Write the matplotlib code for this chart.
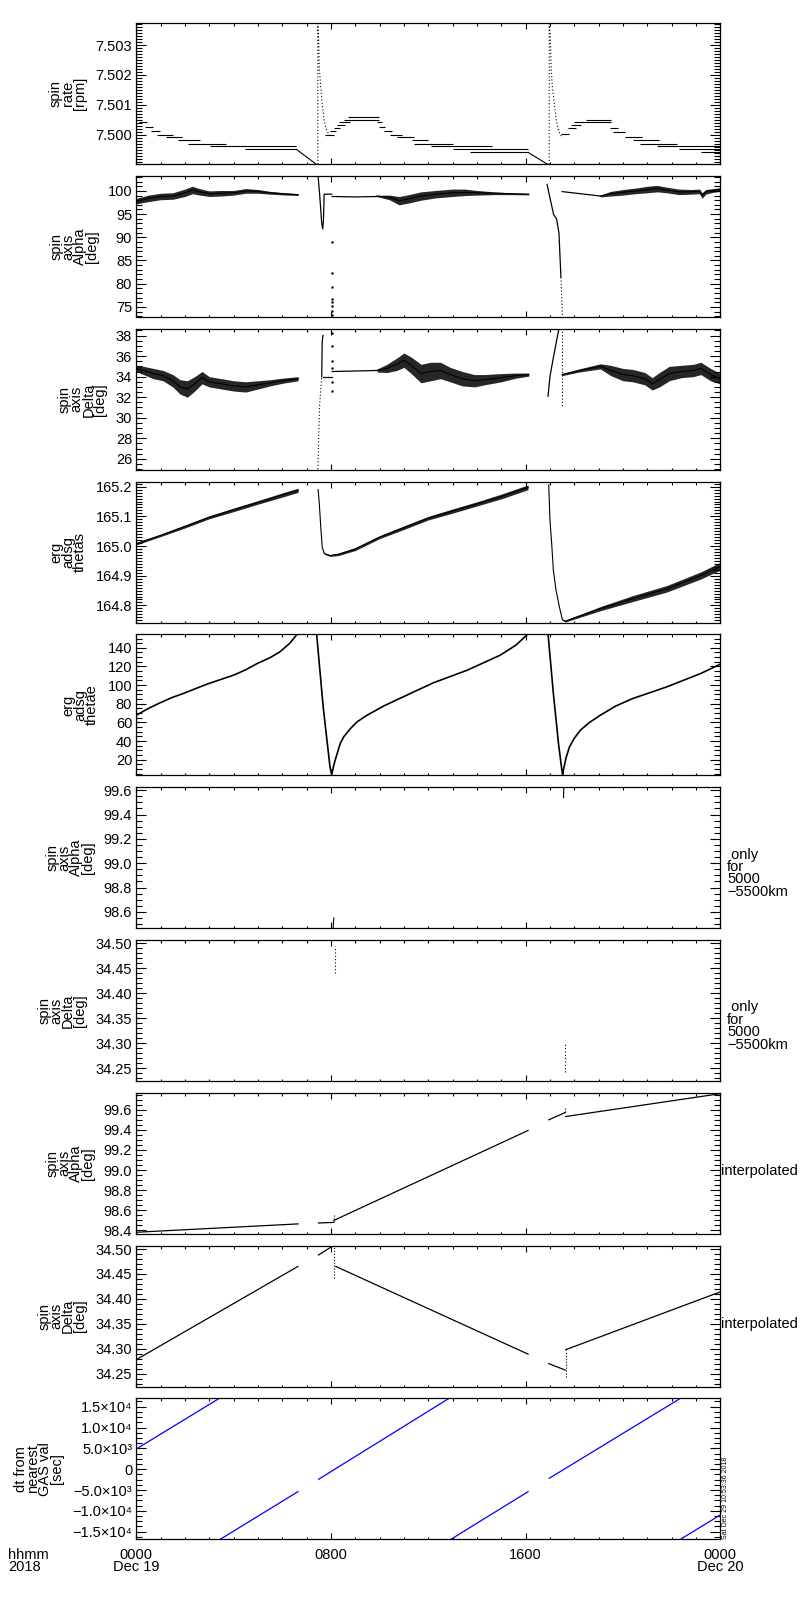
import matplotlib
matplotlib.use('Agg')
import matplotlib.pyplot as plt
from matplotlib.ticker import FixedLocator, MultipleLocator, FixedFormatter
import numpy as np

plt.rcParams['font.family'] = ['Liberation Sans', 'DejaVu Sans']
plt.rcParams['font.size'] = 10.5

### data, time in hours after 2018-12-19 0000 ###

# spin rate [rpm], quantised steps: start, end, level
rate_t0 = [0.00, 0.10, 0.35, 0.62, 0.85, 1.24, 1.70, 2.13, 3.02, 4.46,
           7.77, 7.95, 8.11, 8.25, 8.32, 8.52, 8.70, 9.90, 9.96, 10.16, 10.44,
           10.71, 11.33, 11.40, 12.10, 13.00, 13.70,
           17.46, 17.74, 17.87, 18.00, 18.50, 19.45, 19.60, 20.10, 20.40,
           20.70, 21.40, 22.30, 23.20]
rate_t1 = [0.15, 0.42, 0.70, 0.97, 1.52, 1.86, 2.61, 3.70, 6.58, 6.58,
           8.11, 8.20, 8.38, 8.59, 8.80, 9.96, 9.96, 10.10, 10.24, 10.50, 10.90,
           11.40, 12.00, 13.00, 14.60, 16.10, 16.10,
           17.77, 18.08, 18.28, 19.50, 19.50, 19.80, 20.10, 20.80, 21.50,
           22.20, 24.00, 24.00, 24.00]
rate_lvl = [7.50060, 7.50042, 7.50025, 7.50011, 7.50000, 7.49992, 7.49981, 7.49970, 7.49962, 7.49951,
            7.50000, 7.50011, 7.50021, 7.50033, 7.50042, 7.50050, 7.50059, 7.50042, 7.50025, 7.50011, 7.50000,
            7.49992, 7.49981, 7.49970, 7.49961, 7.49951, 7.49941,
            7.50003, 7.50021, 7.50033, 7.50042, 7.50050, 7.50021, 7.50009, 7.49992, 7.49981,
            7.49970, 7.49962, 7.49951, 7.49941]
rate_ramp1_t = [6.58, 7.40]
rate_ramp1_v = [7.49951, 7.49901]
rate_ramp2_t = [16.10, 16.90]
rate_ramp2_v = [7.49941, 7.49901]
rate_spike1_t = [7.46, 7.46, 7.50, 7.52, 7.58, 7.64, 7.72, 7.80, 7.90]
rate_spike1_v = [7.49901, 7.50372, 7.50303, 7.50225, 7.50159, 7.50103, 7.50048, 7.50020, 7.50003]
rate_spike2_t = [16.97, 16.97, 17.01, 17.05, 17.10, 17.18, 17.26, 17.37, 17.49]
rate_spike2_v = [7.49901, 7.50372, 7.50337, 7.50225, 7.50159, 7.50103, 7.50048, 7.50009, 7.49992]

# spin axis alpha [deg]: noisy bands (centre, half width)
alpha1_t = [0.0, 0.5, 1.0, 1.5, 2.0, 2.3, 2.6, 3.0, 3.5, 4.0, 4.5, 5.0, 5.5, 6.0, 6.65]
alpha1_c = [97.8, 98.4, 98.8, 98.9, 99.6, 100.2, 99.8, 99.4, 99.5, 99.6, 100.0, 99.9, 99.6, 99.4, 99.2]
alpha1_w = [0.6, 0.7, 0.7, 0.7, 0.8, 0.8, 0.7, 0.6, 0.6, 0.5, 0.5, 0.4, 0.3, 0.25, 0.2]
alpha_sp1_t = [7.47, 7.53, 7.58, 7.62, 7.66, 7.69, 7.72, 8.03]
alpha_sp1_v = [103.2, 99.5, 96.0, 93.0, 91.8, 93.5, 99.3, 99.3]
alpha_mid_t = [8.05, 9.0, 9.9]
alpha_mid_v = [98.8, 98.7, 98.8]
alpha_dots_v = [89.0, 82.3, 79.2, 76.8, 76.0, 75.2, 74.2, 73.3]
alpha2_t = [9.9, 10.4, 10.8, 11.2, 11.7, 12.3, 13.0, 13.5, 14.0, 14.7, 15.4, 16.13]
alpha2_c = [98.9, 98.6, 97.9, 98.3, 98.9, 99.3, 99.6, 99.7, 99.6, 99.5, 99.4, 99.3]
alpha2_w = [0.15, 0.5, 0.9, 0.9, 0.9, 0.8, 0.8, 0.7, 0.5, 0.3, 0.2, 0.15]
alpha_sp2_t = [16.88, 17.00, 17.15, 17.27, 17.37, 17.45]
alpha_sp2_v = [101.4, 98.5, 94.9, 94.0, 90.9, 81.4]
alpha_sp2d_t = [17.45, 17.52]
alpha_sp2d_v = [81.4, 72.0]
alpha_link_t = [17.50, 19.07]
alpha_link_v = [99.85, 98.9]
alpha3_t = [19.07, 19.5, 20.0, 20.5, 21.0, 21.4, 21.8, 22.3, 22.8, 23.15, 23.25, 23.4, 23.7, 24.0]
alpha3_c = [98.9, 99.4, 99.7, 100.0, 100.3, 100.5, 100.2, 99.8, 99.8, 99.9, 99.0, 99.8, 100.1, 100.3]
alpha3_w = [0.2, 0.5, 0.6, 0.6, 0.7, 0.7, 0.6, 0.6, 0.5, 0.5, 0.6, 0.5, 0.4, 0.4]

# spin axis delta [deg]
delta1_t = [0.0, 0.3, 0.7, 1.1, 1.5, 1.8, 2.1, 2.4, 2.7, 3.0, 3.5, 4.0, 4.5, 5.0, 5.5, 6.0, 6.65]
delta1_c = [34.8, 34.6, 34.3, 34.1, 33.6, 33.0, 32.8, 33.3, 33.9, 33.5, 33.3, 33.1, 33.0, 33.2, 33.4, 33.6, 33.8]
delta1_w = [0.3, 0.4, 0.5, 0.5, 0.6, 0.7, 0.8, 0.7, 0.6, 0.5, 0.5, 0.5, 0.5, 0.4, 0.3, 0.25, 0.2]
delta_sp1d_t = [7.46, 7.53, 7.62]
delta_sp1d_v = [25.0, 31.1, 34.0]
delta_sp1_t = [7.62, 7.64, 7.67]
delta_sp1_v = [34.0, 37.4, 38.0]
delta_flat_t = [7.67, 8.03]
delta_flat_v = [34.0, 34.0]
delta_dots_v = [38.2, 37.0, 35.5, 34.8, 33.5, 32.6]
delta_mid_t = [8.05, 9.0, 9.9]
delta_mid_v = [34.5, 34.55, 34.6]
delta2_t = [9.9, 10.3, 10.7, 11.0, 11.3, 11.7, 12.1, 12.5, 12.9, 13.4, 13.9, 14.3, 15.0, 15.6, 16.13]
delta2_c = [34.6, 34.8, 35.2, 35.6, 35.1, 34.3, 34.5, 34.6, 34.2, 33.8, 33.6, 33.7, 33.9, 34.1, 34.2]
delta2_w = [0.15, 0.4, 0.6, 0.7, 0.8, 0.9, 0.9, 0.8, 0.7, 0.7, 0.6, 0.5, 0.4, 0.25, 0.15]
delta_sp2_t = [16.92, 17.00, 17.15, 17.37]
delta_sp2_v = [32.1, 34.0, 36.0, 38.7]
delta_sp2d_t = [17.48, 17.48]
delta_sp2d_v = [38.7, 31.1]
delta3_t = [17.5, 18.2, 19.07, 19.5, 20.0, 20.4, 20.9, 21.2, 21.5, 21.9, 22.4, 22.9, 23.2, 23.6, 24.0]
delta3_c = [34.2, 34.6, 35.0, 34.6, 34.2, 34.1, 33.8, 33.3, 33.7, 34.3, 34.5, 34.6, 34.8, 34.2, 33.8]
delta3_w = [0.1, 0.15, 0.25, 0.5, 0.6, 0.6, 0.6, 0.6, 0.7, 0.7, 0.6, 0.6, 0.6, 0.6, 0.5]

# erg adsg thetas
thetas1_t = [0.0, 1.0, 2.0, 3.0, 4.0, 5.0, 6.0, 6.65]
thetas1_v = [165.008, 165.036, 165.066, 165.097, 165.122, 165.147, 165.172, 165.188]
thetas1_w = [0.004, 0.004, 0.005, 0.005, 0.006, 0.006, 0.007, 0.007]
thetas2_t = [7.47, 7.52, 7.58, 7.64, 7.72, 7.96, 8.3, 9.0, 10.0, 11.0, 12.0, 13.0, 14.0, 15.0, 16.1]
thetas2_v = [165.19, 165.144, 165.065, 164.997, 164.975, 164.968, 164.972, 164.99, 165.03,
             165.062, 165.094, 165.118, 165.142, 165.167, 165.198]
thetas2_w = [0, 0, 0, 0, 0.002, 0.003, 0.004, 0.005, 0.005, 0.006, 0.006, 0.007, 0.007, 0.008, 0.008]
thetas3_t = [16.95, 17.0, 17.07, 17.14, 17.25, 17.39, 17.51, 17.62, 19.07, 20.4, 21.8, 23.2, 24.0]
thetas3_v = [165.206, 165.087, 165.009, 164.918, 164.851, 164.794, 164.752, 164.747,
             164.789, 164.823, 164.856, 164.901, 164.932]
thetas3_w = [0, 0, 0, 0, 0, 0, 0.001, 0.003, 0.007, 0.010, 0.011, 0.012, 0.013]

# erg adsg thetae
thetae1_t = [0.0, 0.5, 0.97, 1.45, 1.93, 2.9, 4.0, 4.5, 4.97, 5.5, 5.9, 6.3, 6.62]
thetae1_v = [67.7, 75.0, 80.9, 86.5, 91.0, 101.0, 110.7, 116.5, 123.2, 129.5, 135.7, 144.7, 155.0]
thetae2_t = [7.41, 7.68, 7.96, 8.03, 8.1, 8.17, 8.38, 8.52, 8.8, 9.07, 9.48, 10.2, 10.85,
             12.2, 13.6, 14.96, 15.6, 16.1]
thetae2_v = [155.0, 76.6, 12.2, 4.0, 12.2, 19.3, 37.3, 44.4, 53.4, 60.5, 67.7, 78.0, 86.0,
             102.4, 116.0, 132.2, 142.9, 155.0]
thetae3_t = [16.92, 17.14, 17.35, 17.49, 17.52, 17.55, 17.66, 17.8, 18.0, 18.25, 18.6, 19.07,
             19.7, 20.4, 21.8, 23.2, 24.0]
thetae3_v = [155.0, 91.0, 37.3, 8.6, 4.0, 8.6, 22.0, 33.6, 43.0, 51.6, 59.5, 67.7,
             77.5, 85.6, 98.1, 112.5, 122.5]

# alpha / delta only for 5000-5500 km
alpha_r1_t = [8.09, 8.10, 8.11, 8.12]
alpha_r1_v = [98.47, 98.50, 98.53, 98.55]
alpha_r2_t = [17.56, 17.56, 17.57]
alpha_r2_v = [99.54, 99.58, 99.62]
delta_r1_t = [8.15, 8.15]
delta_r1_v = [34.440, 34.495]
delta_r2_t = [17.63, 17.63]
delta_r2_v = [34.243, 34.300]

# interpolated alpha / delta
alpha_i_t0 = [0.0, 7.49, 8.12, 16.95, 17.65]
alpha_i_t1 = [6.65, 8.10, 16.10, 17.63, 24.0]
alpha_i_v0 = [98.382, 98.474, 98.500, 99.500, 99.533]
alpha_i_v1 = [98.465, 98.480, 99.394, 99.573, 99.760]
alpha_i_jump_t = [8.12, 17.63]
alpha_i_jump_lo = [98.48, 99.573]
alpha_i_jump_hi = [98.55, 99.617]
delta_i_t0 = [0.0, 7.49, 8.20, 16.95, 17.65]
delta_i_t1 = [6.64, 8.10, 16.10, 17.63, 24.0]
delta_i_v0 = [34.278, 34.488, 34.465, 34.270, 34.298]
delta_i_v1 = [34.465, 34.507, 34.289, 34.257, 34.414]
delta_i_jump_t = [8.13, 17.64]
delta_i_jump_lo = [34.441, 34.243]
delta_i_jump_hi = [34.507, 34.298]

# dt from nearest GAS value [sec]
dt_t0 = [0.0, 3.45, 7.49, 12.93, 16.97, 22.36]
dt_t1 = [3.41, 6.64, 12.85, 16.10, 22.36, 24.0]
dt_v0 = [4850, -16824, -2424, -16824, -2184, -16824]
dt_v1 = [17000, -5400, 17000, -5400, 17000, -10992]

ylabels = ['spin\nrate\n[rpm]', 'spin\naxis\nAlpha\n[deg]', 'spin\naxis\nDelta\n[deg]',
           'erg\nadsg\nthetas', 'erg\nadsg\nthetae', 'spin\naxis\nAlpha\n[deg]',
           'spin\naxis\nDelta\n[deg]', 'spin\naxis\nAlpha\n[deg]', 'spin\naxis\nDelta\n[deg]',
           'dt from\nnearest\nGAS val\n[sec]']
ylims = [(7.49901, 7.50373), (72.8, 103.2), (24.93, 38.65), (164.742, 165.217), (3.1, 154.4),
         (98.466, 99.625), (34.224, 34.507), (98.367, 99.769), (34.224, 34.507), (-16830, 17010)]
yticks = [[7.500, 7.501, 7.502, 7.503], [75, 80, 85, 90, 95, 100], [26, 28, 30, 32, 34, 36, 38],
          [164.8, 164.9, 165.0, 165.1, 165.2], [20, 40, 60, 80, 100, 120, 140],
          [98.6, 98.8, 99.0, 99.2, 99.4, 99.6], [34.25, 34.30, 34.35, 34.40, 34.45, 34.50],
          [98.4, 98.6, 98.8, 99.0, 99.2, 99.4, 99.6], [34.25, 34.30, 34.35, 34.40, 34.45, 34.50],
          [15000, 10000, 5000, 0, -5000, -10000, -15000]]
ytick_labels = [['7.500', '7.501', '7.502', '7.503'], None, None, None, None, None, None, None, None,
                ['1.5\u00d710\u2074', '1.0\u00d710\u2074', '5.0\u00d710\u00b3', '0',
                 '\u22125.0\u00d710\u00b3', '\u22121.0\u00d710\u2074', '\u22121.5\u00d710\u2074']]
yfmts = [None, '%d', '%d', '%.1f', '%d', '%.1f', '%.2f', '%.1f', '%.2f', None]
yminor = [0.0001, 1, 0.5, 0.01, 5, 0.05, 0.01, 0.05, 0.01, 1250]
xtick_labels = ['0000\nDec 19', '0800', '1600', '0000\nDec 20']


def band(ax, t, c, w):
    c = np.array(c)
    w = np.array(w)
    ax.fill_between(t, c - w, c + w, color='0.15', lw=0)
    ax.plot(t, c, color='k', lw=0.8)


def segs(ax, t0, t1, v0, v1, color='k'):
    for a, b, c, d in zip(t0, t1, v0, v1):
        ax.plot([a, b], [c, d], color=color, lw=0.9)


dot = dict(color='k', lw=0.8, linestyle=(0, (1, 2)))

fig = plt.figure(figsize=(8, 16), dpi=100)
axes = []
for i in range(10):
    top = 23.3 + i * 152.78
    ax = fig.add_axes([136.3 / 800, 1 - (top + 141) / 1600, 584 / 800, 141 / 1600])
    ax.set_xlim(0, 24)
    ax.set_ylim(*ylims[i])
    ax.xaxis.set_major_locator(FixedLocator([0, 8, 16, 24]))
    ax.xaxis.set_minor_locator(MultipleLocator(1))
    ax.yaxis.set_major_locator(FixedLocator(yticks[i]))
    ax.yaxis.set_minor_locator(MultipleLocator(yminor[i]))
    if ytick_labels[i] is not None:
        ax.yaxis.set_major_formatter(FixedFormatter(ytick_labels[i]))
    else:
        ax.yaxis.set_major_formatter(plt.FormatStrFormatter(yfmts[i]))
    ax.tick_params(which='both', direction='in', top=True, right=True, width=0.8,
                   labelbottom=False, pad=3)
    ax.tick_params(axis='y', which='major', length=7.2)
    ax.tick_params(axis='y', which='minor', length=4.3)
    ax.tick_params(axis='x', which='major', length=4)
    ax.tick_params(axis='x', which='minor', length=1.8)
    for sp in ax.spines.values():
        sp.set_linewidth(0.9)
    ax.set_ylabel(ylabels[i], linespacing=0.82, labelpad=6)
    axes.append(ax)

# panel 1: spin rate
ax = axes[0]
ax.hlines(rate_lvl, rate_t0, rate_t1, color='k', lw=0.8)
ax.plot(rate_ramp1_t, rate_ramp1_v, color='k', lw=0.8)
ax.plot(rate_ramp2_t, rate_ramp2_v, color='k', lw=0.8)
ax.plot(rate_spike1_t, rate_spike1_v, **dot)
ax.plot(rate_spike2_t, rate_spike2_v, **dot)

# panel 2: alpha
ax = axes[1]
band(ax, alpha1_t, alpha1_c, alpha1_w)
ax.plot(alpha_sp1_t, alpha_sp1_v, color='k', lw=0.9)
ax.plot(alpha_mid_t, alpha_mid_v, color='k', lw=0.9)
ax.plot([8.03] * len(alpha_dots_v), alpha_dots_v, 'k.', ms=1.5)
band(ax, alpha2_t, alpha2_c, alpha2_w)
ax.plot(alpha_sp2_t, alpha_sp2_v, color='k', lw=0.9)
ax.plot(alpha_sp2d_t, alpha_sp2d_v, **dot)
ax.plot(alpha_link_t, alpha_link_v, color='k', lw=0.9)
band(ax, alpha3_t, alpha3_c, alpha3_w)

# panel 3: delta
ax = axes[2]
band(ax, delta1_t, delta1_c, delta1_w)
ax.plot(delta_sp1d_t, delta_sp1d_v, **dot)
ax.plot(delta_sp1_t, delta_sp1_v, color='k', lw=0.9)
ax.plot(delta_flat_t, delta_flat_v, color='k', lw=0.9)
ax.plot([8.03] * len(delta_dots_v), delta_dots_v, 'k.', ms=1.5)
ax.plot(delta_mid_t, delta_mid_v, color='k', lw=0.9)
band(ax, delta2_t, delta2_c, delta2_w)
ax.plot(delta_sp2_t, delta_sp2_v, color='k', lw=0.9)
ax.plot(delta_sp2d_t, delta_sp2d_v, **dot)
band(ax, delta3_t, delta3_c, delta3_w)

# panel 4: thetas
ax = axes[3]
band(ax, thetas1_t, thetas1_v, thetas1_w)
band(ax, thetas2_t, thetas2_v, thetas2_w)
band(ax, thetas3_t, thetas3_v, thetas3_w)

# panel 5: thetae
ax = axes[4]
ax.plot(thetae1_t, thetae1_v, color='k', lw=1.2)
ax.plot(thetae2_t, thetae2_v, color='k', lw=1.2)
ax.plot(thetae3_t, thetae3_v, color='k', lw=1.2)

# panels 6, 7: only for 5000-5500 km
axes[5].plot(alpha_r1_t, alpha_r1_v, color='k', lw=0.8)
axes[5].plot(alpha_r2_t, alpha_r2_v, color='k', lw=0.8)
axes[6].plot(delta_r1_t, delta_r1_v, **dot)
axes[6].plot(delta_r2_t, delta_r2_v, **dot)
for ax in axes[5:7]:
    ax.text(1.012, 0.39, ' only\nfor\n5000\n\u22125500km', transform=ax.transAxes,
            ha='left', va='center', linespacing=0.85)

# panels 8, 9: interpolated
segs(axes[7], alpha_i_t0, alpha_i_t1, alpha_i_v0, alpha_i_v1)
axes[7].vlines(alpha_i_jump_t, alpha_i_jump_lo, alpha_i_jump_hi, color='k', lw=0.8, linestyles=':')
segs(axes[8], delta_i_t0, delta_i_t1, delta_i_v0, delta_i_v1)
axes[8].vlines(delta_i_jump_t, delta_i_jump_lo, delta_i_jump_hi, color='k', lw=0.8, linestyles=':')
for ax in axes[7:9]:
    ax.text(1.002, 0.443, 'interpolated', transform=ax.transAxes, ha='left', va='center')

# panel 10: dt
ax = axes[9]
segs(ax, dt_t0, dt_t1, dt_v0, dt_v1, color='#0000ff')
ax.tick_params(axis='x', labelbottom=True, pad=6.5)
ax.set_xticklabels(xtick_labels, linespacing=0.8)

fig.text(8 / 800, 1 - 1548 / 1600, 'hhmm\n2018', ha='left', va='top', linespacing=0.8)
fig.text(725.5 / 800, 1 - 1539 / 1600, 'Sat Dec 29 10:53:36 2018', rotation=90,
         fontsize=5, ha='center', va='bottom')

fig.savefig('out.png', dpi=100)
